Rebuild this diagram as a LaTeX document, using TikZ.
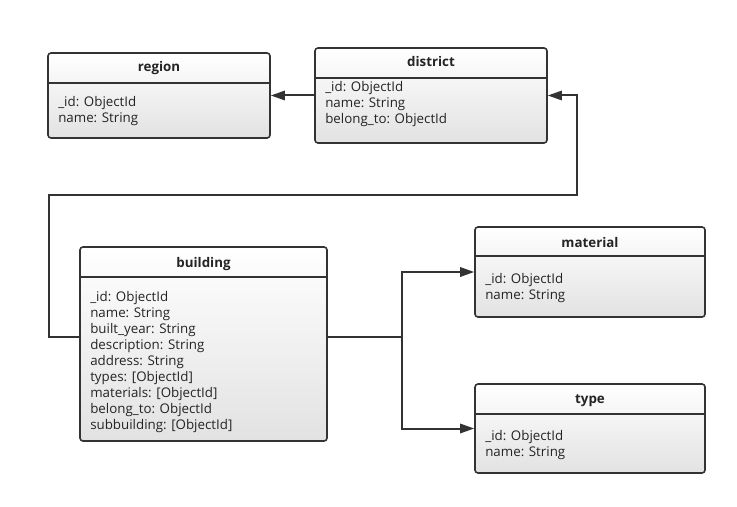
\documentclass[tikz,border=0pt]{standalone}
\usepackage{fontspec}
\setmainfont{Open Sans}
\usetikzlibrary{arrows.meta,calc}
\definecolor{ln}{HTML}{333333}
\definecolor{shd}{HTML}{E2E2E2}
\tikzset{
  entity/.style={draw=ln, line width=1.2pt, rounded corners=2.25pt, top color=white, bottom color=shd, inner sep=0pt},
  hline/.style={draw=ln, line width=1.2pt},
  ttl/.style={anchor=base, inner sep=0pt, font=\bfseries\fontsize{10}{12}\selectfont, text=ln!70!black},
  attrs/.style={anchor=north west, inner sep=0pt, align=left, font=\fontsize{10}{12}\selectfont, text=ln!70!black},
  conn/.style={draw=ln, line width=1.5pt, -{Triangle[length=10.5pt,width=7pt]}},
  plain/.style={draw=ln, line width=1.5pt}
}
\begin{document}
\begin{tikzpicture}[x=0.75pt,y=-0.75pt]
\useasboundingbox[fill=white] (0,0) rectangle (737,506);
% region
\node[entity, minimum width=166.5pt, minimum height=63.75pt] (region) at (159,95.5) {};
\draw[hline] (region.west |- 0,83) -- (region.east |- 0,83);
\node[ttl] (regionT) at (159,71.5) {region};
\node[attrs] (regionA) at (58,96.5) {\_id: ObjectId\\name: String};
% district
\node[entity, minimum width=174pt, minimum height=71.25pt] (district) at (431,95.5) {};
\draw[hline] (district.west |- 0,78) -- (district.east |- 0,78);
\node[ttl] (districtT) at (431,67) {district};
\node[attrs] (districtA) at (325,81.5) {\_id: ObjectId\\name: String\\belong\_to: ObjectId};
% building
\node[entity, minimum width=185.25pt, minimum height=145.5pt] (building) at (203.5,344) {};
\draw[hline] (building.west |- 0,277) -- (building.east |- 0,277);
\node[ttl] (buildingT) at (203.5,267) {building};
\node[attrs] (buildingA) at (90,291) {\_id: ObjectId\\name: String\\built\_year: String\\description: String\\address: String\\types: [ObjectId]\\materials: [ObjectId]\\belong\_to: ObjectId\\subbuilding: [ObjectId]};
% material
\node[entity, minimum width=172.5pt, minimum height=67.5pt] (material) at (590,272) {};
\draw[hline] (material.west |- 0,256) -- (material.east |- 0,256);
\node[ttl] (materialT) at (590,247) {material};
\node[attrs] (materialA) at (485,273.5) {\_id: ObjectId\\name: String};
% type
\node[entity, minimum width=172.5pt, minimum height=66.75pt] (type) at (590,428.5) {};
\draw[hline] (type.west |- 0,414) -- (type.east |- 0,414);
\node[ttl] (typeT) at (590,403.5) {type};
\node[attrs] (typeA) at (485,430.5) {\_id: ObjectId\\name: String};
% connectors
\coordinate (bw) at ($(building.west)+(0,-7)$);
\coordinate (be) at ($(building.east)+(0,-7)$);
\coordinate (fork) at ($(be)+(74,0)$);
\draw[conn] (district.west) -- (region.east);
\draw[conn] (bw) -- ++(-30,0) |- (577,195) |- (district.east);
\draw[conn] (be) -- (fork) |- (material.west);
\draw[conn] (fork) |- (type.west);
\end{tikzpicture}
\end{document}
